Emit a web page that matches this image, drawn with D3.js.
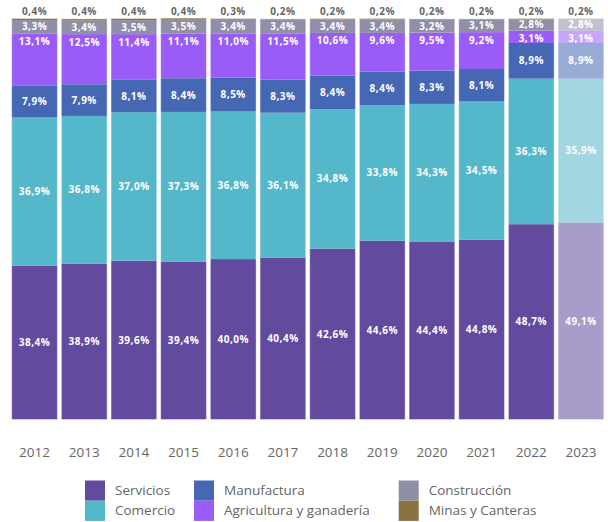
<!DOCTYPE html>
<meta charset="utf-8" />
<title>Composición por sector</title>
<style>
  body { margin: 0; background: #fff; font-family: "Open Sans", Arial, sans-serif; }
  svg { display: block; }
  .seg-label { font-size: 10px; font-weight: 700; fill: #fff; text-anchor: middle; letter-spacing: 0.5px; }
  .top-label { font-size: 10px; font-weight: 700; fill: #666; text-anchor: middle; letter-spacing: 0.5px; }
  .year { font-size: 13.5px; fill: #666; text-anchor: middle; }
  .legend text { font-size: 13.5px; fill: #666; }
</style>
<body>
<svg width="608" height="522"></svg>
<script src="https://d3js.org/d3.v7.min.js"></script>
<script>
  const years = ["2012", "2013", "2014", "2015", "2016", "2017", "2018", "2019", "2020", "2021", "2022", "2023"];
  const servicios    = [38.4, 38.9, 39.6, 39.4, 40.0, 40.4, 42.6, 44.6, 44.4, 44.8, 48.7, 49.1];
  const comercio     = [36.9, 36.8, 37.0, 37.3, 36.8, 36.1, 34.8, 33.8, 34.3, 34.5, 36.3, 35.9];
  const manufactura  = [7.9, 7.9, 8.1, 8.4, 8.5, 8.3, 8.4, 8.4, 8.3, 8.1, 8.9, 8.9];
  const agricultura  = [13.1, 12.5, 11.4, 11.1, 11.0, 11.5, 10.6, 9.6, 9.5, 9.2, 3.1, 3.1];
  const construccion = [3.3, 3.4, 3.5, 3.5, 3.4, 3.4, 3.4, 3.4, 3.2, 3.1, 2.8, 2.8];
  const minas        = [0.4, 0.4, 0.4, 0.4, 0.3, 0.2, 0.2, 0.2, 0.2, 0.2, 0.2, 0.2];
  const projectedYear = "2023";

  const series = [
    { key: "servicios", name: "Servicios", values: servicios, color: "#624a9e" },
    { key: "comercio", name: "Comercio", values: comercio, color: "#55b7ca" },
    { key: "manufactura", name: "Manufactura", values: manufactura, color: "#4567b4" },
    { key: "agricultura", name: "Agricultura y ganadería", values: agricultura, color: "#995cf7" },
    { key: "construccion", name: "Construcción", values: construccion, color: "#8f8fa8" },
    { key: "minas", name: "Minas y Canteras", values: minas, color: "#8a7340" }
  ];

  const rows = years.map((y, i) => {
    const r = { year: y };
    series.forEach(s => r[s.key] = s.values[i]);
    return r;
  });

  const stack = d3.stack().keys(series.map(s => s.key));
  const layers = stack(rows);

  const svg = d3.select("svg");

  const x = d3.scaleBand()
    .domain(years)
    .range([9.7, 605.8])
    .paddingInner(0.08)
    .paddingOuter(0.04);

  const y = d3.scaleLinear().domain([0, 100]).range([419.5, 18.5]);

  const fmt = v => d3.format(".1f")(v).replace(".", ",") + "%";

  const layerG = svg.append("g")
    .selectAll("g")
    .data(layers)
    .join("g");

  layerG.selectAll("rect")
    .data((d, i) => d.map(p => ({ p, s: series[i] })))
    .join("rect")
    .attr("x", d => x(d.p.data.year))
    .attr("width", x.bandwidth())
    .attr("y", d => y(d.p[1]))
    .attr("height", d => y(d.p[0]) - y(d.p[1]))
    .attr("fill", d => d.s.color)
    .attr("fill-opacity", d => d.p.data.year === projectedYear ? 0.55 : 1);

  // thin light outline around each column
  const tops = layers[layers.length - 1];
  svg.append("g")
    .selectAll("rect")
    .data(rows)
    .join("rect")
    .attr("x", d => x(d.year))
    .attr("width", x.bandwidth())
    .attr("y", (d, i) => y(tops[i][1]))
    .attr("height", (d, i) => y(0) - y(tops[i][1]))
    .attr("fill", "none")
    .attr("stroke", "#fff")
    .attr("stroke-opacity", 0.4)
    .attr("stroke-width", 1);

  // labels
  const labels = svg.append("g");
  layers.forEach((layer, li) => {
    const key = series[li].key;
    layer.forEach(p => {
      const cx = x(p.data.year) + x.bandwidth() / 2;
      const top = y(p[1]), bot = y(p[0]);
      const mid = (top + bot) / 2;
      let ly, cls = "seg-label";
      if (key === "minas") { ly = top - 7; cls = "top-label"; }
      else if (key === "agricultura") ly = Math.min(mid + 2, top + 8);
      else ly = mid;
      labels.append("text")
        .attr("class", cls)
        .attr("x", cx)
        .attr("y", ly)
        .attr("dy", "0.35em")
        .text(fmt(p.data[key]));
    });
  });

  // year axis
  svg.append("g")
    .selectAll("text")
    .data(years)
    .join("text")
    .attr("class", "year")
    .attr("x", d => x(d) + x.bandwidth() / 2)
    .attr("y", 452)
    .attr("dy", "0.35em")
    .text(d => d);

  // legend: three columns, two rows
  const legendCols = [
    [series[0], series[1]],
    [series[2], series[3]],
    [series[4], series[5]]
  ];
  const colX = [85, 194, 398.7];
  const legend = svg.append("g").attr("class", "legend");
  legendCols.forEach((col, ci) => {
    col.forEach((s, ri) => {
      const gy = 480.5 + ri * 20.2;
      legend.append("rect")
        .attr("x", colX[ci])
        .attr("y", gy)
        .attr("width", 20)
        .attr("height", 20.2)
        .attr("fill", s.color);
      legend.append("text")
        .attr("x", colX[ci] + 30)
        .attr("y", gy + 10)
        .attr("dy", "0.35em")
        .text(s.name);
    });
  });
</script>
</body>
